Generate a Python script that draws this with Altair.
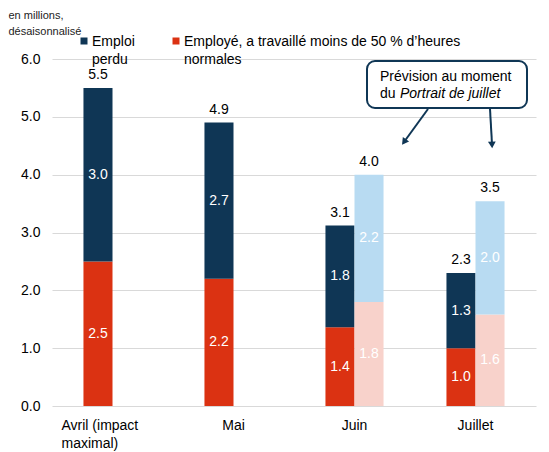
import altair as alt
import pandas as pd

months = ["Avril (impact maximal)", "Mai", "Juin", "Juillet"]
lost_actual = [3.0, 2.7, 1.76, 1.3]
low_hours_actual = [2.5, 2.2, 1.36, 1.0]
forecast_months = ["Juin", "Juillet"]
lost_forecast = [2.2, 1.96]
low_hours_forecast = [1.8, 1.58]

series = ["Réel", "Prévision"]
LOST = "Emploi perdu"
LOW = "Employé, a travaillé moins de 50 % d’heures normales"
LOST_F = "Emploi perdu (prévision)"
LOW_F = "Employé (prévision)"

NAVY = "#0f3655"
RED = "#db3212"
LIGHT_BLUE = "#b8dbf2"
PINK = "#f8d2cb"
FONT = "Liberation Sans"
LABEL_DY = 5

rows = []
for m, low, lost in zip(months, low_hours_actual, lost_actual):
    rows.append({"month": m, "serie": "Réel", "segment": LOW, "value": low})
    rows.append({"month": m, "serie": "Réel", "segment": LOST, "value": lost})
for m, low, lost in zip(forecast_months, low_hours_forecast, lost_forecast):
    rows.append({"month": m, "serie": "Prévision", "segment": LOW_F, "value": low})
    rows.append({"month": m, "serie": "Prévision", "segment": LOST_F, "value": lost})

seg = pd.DataFrame(rows)
seg["y1"] = seg.groupby(["month", "serie"])["value"].cumsum()
seg["y0"] = seg["y1"] - seg["value"]
seg["mid"] = (seg["y0"] + seg["y1"]) / 2
totals = seg.groupby(["month", "serie"], as_index=False)["value"].sum()
totals = totals.rename(columns={"value": "total"})

avril_test = "datum.value == 'Avril (impact maximal)'"
x_enc = alt.X(
    "month:N",
    sort=months,
    scale=alt.Scale(domain=months, paddingInner=0.52, paddingOuter=0.26),
    axis=alt.Axis(
        title=None,
        labelAngle=0,
        ticks=False,
        domain=False,
        labelFontSize=14,
        labelColor="black",
        labelPadding=12 - LABEL_DY,
        labelLineHeight=18,
        labelExpr=f"{avril_test} ? ['Avril (impact', 'maximal)'] : datum.value",
        labelAlign={"condition": {"test": avril_test, "value": "left"}, "value": "center"},
        labelOffset={"condition": {"test": avril_test, "value": -51}, "value": 0},
    ),
)
xoff = alt.XOffset("serie:N", scale=alt.Scale(domain=series, paddingInner=0, paddingOuter=0))

y_scale = alt.Scale(domain=[0, 6], nice=False)
y_axis = alt.Axis(
    values=[0, 1, 2, 3, 4, 5, 6],
    format=".1f",
    ticks=False,
    domain=False,
    gridColor="#d9d9d9",
    labelFontSize=14,
    labelColor="black",
    labelPadding=12,
    labelOffset=-LABEL_DY,
    title=["en millions,", "désaisonnalisé"],
    titleAngle=0,
    titleAlign="left",
    titleBaseline="top",
    titleX=-44,
    titleY=-50,
    titleFontSize=11,
    titleFontWeight="normal",
    titleLineHeight=16,
    titleColor="#222222",
)

bars = (
    alt.Chart(seg)
    .mark_bar()
    .encode(
        x=x_enc,
        xOffset=xoff,
        y=alt.Y("y1:Q", scale=y_scale, axis=y_axis),
        y2="y0:Q",
        color=alt.Color(
            "segment:N",
            scale=alt.Scale(domain=[LOST, LOW, LOST_F, LOW_F], range=[NAVY, RED, LIGHT_BLUE, PINK]),
            legend=alt.Legend(
                values=[LOST, LOW],
                title=None,
                orient="none",
                legendX=25,
                legendY=-25,
                direction="horizontal",
                symbolType="square",
                symbolSize=49,
                symbolStrokeWidth=0,
                labelFontSize=14,
                labelColor="black",
                labelLimit=400,
                labelOffset=1,
                labelBaseline="alphabetic",
                columnPadding=34,
                labelExpr="datum.value == 'Emploi perdu' ? ['Emploi', 'perdu'] : "
                "['Employé, a travaillé moins de 50 % d’heures', 'normales']",
            ),
        ),
    )
)

seg_labels = (
    alt.Chart(seg)
    .mark_text(color="white", fontSize=14, baseline="middle")
    .encode(
        x=alt.X("month:N", sort=months),
        xOffset=xoff,
        y=alt.Y("mid:Q", scale=y_scale, axis=y_axis),
        text=alt.Text("value:Q", format=".1f"),
    )
)

total_labels = (
    alt.Chart(totals)
    .mark_text(color="black", fontSize=14, baseline="middle", dy=-13)
    .encode(
        x=alt.X("month:N", sort=months),
        xOffset=xoff,
        y=alt.Y("total:Q", scale=y_scale, axis=y_axis),
        text=alt.Text("total:Q", format=".1f"),
    )
)

# callout box
note = pd.DataFrame({"k": [0]})
box = (
    alt.Chart(note)
    .mark_rect(fill="white", stroke=NAVY, strokeWidth=2, cornerRadius=8)
    .encode(x=alt.value(315), x2=alt.value(475), y=alt.value(2), y2=alt.value(49))
)
note_line1 = (
    alt.Chart(note)
    .mark_text(align="left", baseline="middle", fontSize=14, color="black")
    .encode(x=alt.value(328), y=alt.value(18), text=alt.value("Prévision au moment"))
)
note_line2a = (
    alt.Chart(note)
    .mark_text(align="left", baseline="middle", fontSize=14, color="black")
    .encode(x=alt.value(328), y=alt.value(35), text=alt.value("du"))
)
note_line2b = (
    alt.Chart(note)
    .mark_text(align="left", baseline="middle", fontSize=14, color="black", fontStyle="italic")
    .encode(x=alt.value(348), y=alt.value(35), text=alt.value("Portrait de juillet"))
)
arrow1 = (
    alt.Chart(note)
    .mark_rule(color=NAVY, strokeWidth=2)
    .encode(x=alt.value(376), y=alt.value(50), x2=alt.value(352), y2=alt.value(83))
)
arrow2 = (
    alt.Chart(note)
    .mark_rule(color=NAVY, strokeWidth=2)
    .encode(x=alt.value(438), y=alt.value(50), x2=alt.value(440), y2=alt.value(85))
)
head1 = (
    alt.Chart(note)
    .mark_point(shape="triangle-up", filled=True, color=NAVY, opacity=1, size=60, angle=216)
    .encode(x=alt.value(352), y=alt.value(83))
)
head2 = (
    alt.Chart(note)
    .mark_point(shape="triangle-up", filled=True, color=NAVY, opacity=1, size=60, angle=177)
    .encode(x=alt.value(440), y=alt.value(86))
)

chart = (
    alt.layer(
        bars, seg_labels, total_labels,
        box, note_line1, note_line2a, note_line2b, arrow1, arrow2, head1, head2,
    )
    .properties(
        width=484,
        height=347,
        autosize=alt.AutoSizeParams(type="none"),
        padding={"left": 44, "top": 51, "right": 5, "bottom": 46},
    )
    .configure(font=FONT, style={"guide-label": {"dy": LABEL_DY, "lineHeight": 18}})
    .configure_view(stroke=None)
)

chart.save("out.html", embed_options={"renderer": "svg", "actions": False})
